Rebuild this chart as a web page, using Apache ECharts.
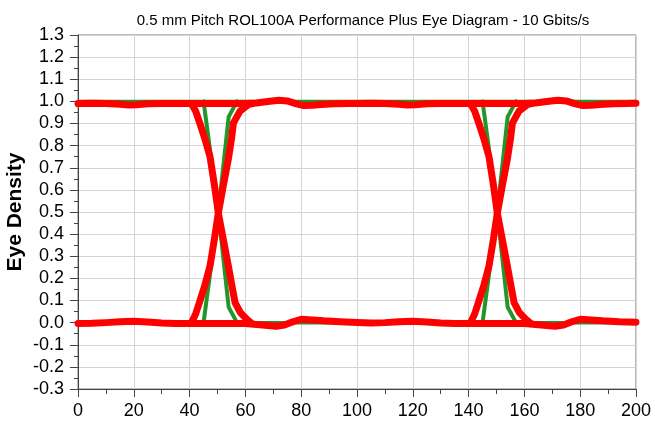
<!DOCTYPE html>
<html>
<head>
<meta charset="utf-8">
<script src="https://cdn.jsdelivr.net/npm/echarts@6/dist/echarts.min.js"></script>
<style>html,body{margin:0;padding:0;background:#fff;}#c{width:655px;height:421px;}</style>
</head>
<body>
<div id="c"></div>
<script>
var titleText = '0.5 mm Pitch ROL100A Performance Plus Eye Diagram - 10 Gbits/s';
var yName = 'Eye Density';

// Green (ideal) traces
var greenTop = [[0,1.0],[200,1.0]];
var greenBottom = [[0,0.0],[200,0.0]];
var greenFall1 = [[45,1.0],[50.3,0.5],[54,0.07],[57,0.0]];
var greenRise1 = [[45,0.0],[50.3,0.5],[54,0.93],[57,1.0]];
var greenFall2 = [[145,1.0],[150.3,0.5],[154,0.07],[157,0.0]];
var greenRise2 = [[145,0.0],[150.3,0.5],[154,0.93],[157,1.0]];

// Red (measured) traces
var redTop = [[0,0.99],[5,0.991],[10,0.99],[15,0.987],[18,0.984],[21,0.985],[25,0.989],[30,0.99],[35,0.99],[40,0.99],
  [45,0.99],[50,0.99],[55,0.99],[60,0.99],[64,0.993],[68,0.999],[72,1.005],[75,1.002],[78,0.99],[81,0.981],[84,0.983],[87,0.986],[92,0.989],[97,0.99],[100,0.99],
  [105,0.991],[110,0.99],[115,0.987],[118,0.984],[121,0.985],[125,0.989],[130,0.99],[135,0.99],[140,0.99],
  [145,0.99],[150,0.99],[155,0.99],[160,0.99],[164,0.993],[168,0.999],[172,1.005],[175,1.002],[178,0.99],[181,0.981],[184,0.983],[187,0.986],[192,0.989],[197,0.99],[200,0.992]];
var redBottom = [[0,-0.004],[5,-0.003],[10,0.0],[15,0.004],[20,0.006],[25,0.003],[30,-0.002],[35,-0.004],[40,-0.004],
  [45,-0.004],[50,-0.004],[55,-0.004],[60,-0.004],[64,-0.008],[68,-0.013],[71,-0.016],[74,-0.011],[77,0.004],[80,0.015],[84,0.012],[88,0.008],[94,0.004],[100,0.001],
  [105,-0.002],[110,0.0],[115,0.004],[120,0.006],[125,0.003],[130,-0.002],[135,-0.004],[140,-0.004],
  [145,-0.004],[150,-0.004],[155,-0.004],[160,-0.004],[164,-0.008],[168,-0.013],[171,-0.016],[174,-0.011],[177,0.004],[180,0.015],[184,0.012],[188,0.008],[194,0.004],[200,0.002]];
var redFall1 = [[40.7,0.99],[42.2,0.955],[43.7,0.9],[45.5,0.83],[47.3,0.751],[48.8,0.63],[50.3,0.495],[52.1,0.375],[53.9,0.255],[55.2,0.165],[56.3,0.09],[58.2,0.045],[60.5,0.015],[62,0.0]];
var redRise1 = [[40.7,0.0],[42.2,0.04],[43.7,0.098],[45.5,0.17],[47.3,0.255],[48.8,0.37],[50.3,0.495],[52.1,0.62],[53.9,0.74],[55,0.83],[55.7,0.902],[58,0.955],[61,0.985],[62.5,0.99]];
var redFall2 = [[140.7,0.99],[142.2,0.955],[143.7,0.9],[145.5,0.83],[147.3,0.751],[148.8,0.63],[150.3,0.495],[152.1,0.375],[153.9,0.255],[155.2,0.165],[156.3,0.09],[158.2,0.045],[160.5,0.015],[162,0.0]];
var redRise2 = [[140.7,0.0],[142.2,0.04],[143.7,0.098],[145.5,0.17],[147.3,0.255],[148.8,0.37],[150.3,0.495],[152.1,0.62],[153.9,0.74],[155,0.83],[155.7,0.902],[158,0.955],[161,0.985],[162.5,0.99]];

var GREEN = '#23962a', RED = '#ff0000';
function ln(data, color, w, z) {
  return {type:'line', data:data, showSymbol:false, symbol:'none', smooth:false, z:z,
    lineStyle:{color:color, width:w, cap:'round', join:'round'}, itemStyle:{color:color}, silent:true, animation:false};
}
var chart = echarts.init(document.getElementById('c'), null, {renderer:'canvas'});
chart.setOption({
  animation:false,
  backgroundColor:'#fff',
  title:{text:titleText, left:358, top:8, textAlign:'center',
    textStyle:{fontFamily:'Liberation Sans', fontSize:15, fontWeight:'normal', color:'#000'}},
  grid:{left:78, right:19, top:35, bottom:32, show:true, borderColor:'#777', borderWidth:1,
    containLabel:false, outerBoundsMode:'none'},
  xAxis:{type:'value', min:0, max:200, interval:20,
    axisLine:{show:true, onZero:false, lineStyle:{color:'#444', width:1}},
    axisTick:{show:true, length:8, lineStyle:{color:'#444'}},
    minorTick:{show:true, splitNumber:2, length:5, lineStyle:{color:'#444'}},
    splitLine:{show:true, lineStyle:{color:'#d4d4d4', width:1}},
    axisLabel:{fontFamily:'Liberation Sans', fontSize:18, color:'#000', margin:13}},
  yAxis:{type:'value', min:-0.3, max:1.3, interval:0.1,
    name:yName, nameLocation:'middle', nameGap:52, nameRotate:90, nameMoveOverlap:false,
    nameTextStyle:{fontFamily:'Liberation Sans', fontSize:21, fontWeight:'bold', color:'#000'},
    axisLine:{show:true, onZero:false, lineStyle:{color:'#444', width:1}},
    axisTick:{show:true, length:8, lineStyle:{color:'#444'}},
    minorTick:{show:true, splitNumber:2, length:4, lineStyle:{color:'#444'}},
    splitLine:{show:true, lineStyle:{color:'#d4d4d4', width:1}},
    axisLabel:{fontFamily:'Liberation Sans', fontSize:18, color:'#000', margin:14,
      formatter:function(v){ return (Math.round(v*10)/10).toFixed(1); }}},
  series:[
    ln(greenTop, GREEN, 3.5, 2), ln(greenBottom, GREEN, 3.5, 2),
    ln(greenFall1, GREEN, 4, 2), ln(greenRise1, GREEN, 4, 2),
    ln(greenFall2, GREEN, 4, 2), ln(greenRise2, GREEN, 4, 2),
    ln(redTop, RED, 7, 3), ln(redBottom, RED, 7, 3),
    ln(redFall1, RED, 7, 3), ln(redRise1, RED, 7, 3),
    ln(redFall2, RED, 7, 3), ln(redRise2, RED, 7, 3)
  ]
});
</script>
</body>
</html>
